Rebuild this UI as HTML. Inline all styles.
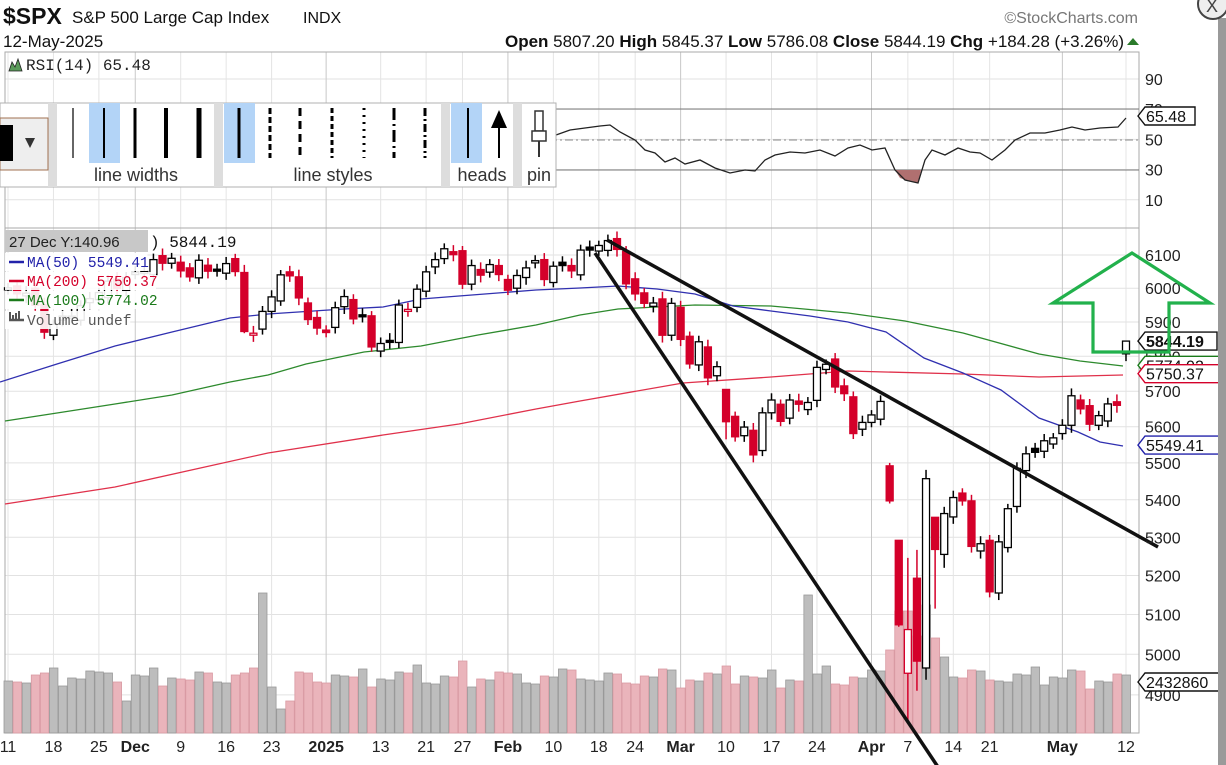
<!DOCTYPE html>
<html><head><meta charset="utf-8">
<style>
html,body{margin:0;padding:0;background:#fff;width:1226px;height:765px;overflow:hidden;font-family:"Liberation Sans",sans-serif;}
#wrap{position:relative;width:1226px;height:765px;}
svg{position:absolute;left:0;top:0;}
</style></head>
<body><div id="wrap"><svg id="s" width="1226" height="765" viewBox="0 0 1226 765" xmlns="http://www.w3.org/2000/svg"></svg></div>
<script>
const S=document.getElementById('s');
let h='';
function Y(p){return 255+2008*Math.log(6100/p);}
const hol=['2024-11-28','2024-12-25','2025-01-01','2025-01-09','2025-01-20','2025-02-17','2025-04-18'];
let days=[];let d=new Date(Date.UTC(2024,10,11));const end=new Date(Date.UTC(2025,4,12));
while(d<=end){const w=d.getUTCDay();const k=d.toISOString().slice(0,10);if(w>0&&w<6&&hol.indexOf(k)<0)days.push(k);d=new Date(d.getTime()+86400000);}
const n=days.length;const step=(1126-8)/(n-1);
function X(i){return 8+i*step;}
function idx(k){return days.indexOf(k);}
const C=[6001,5983,5985,5949,5870,5893,5917,5917,5948,5969,5987,6021,5999,6032,6047,6050,6086,6075,6090,6052,6034,6084,6051,6051,6074,6050,5872,5867,5931,5974,6040,6037,5971,5907,5882,5869,5942,5975,5909,5918,5827,5837,5843,5950,5937,5997,6049,6086,6119,6101,6012,6068,6039,6071,6041,5994,6038,6061,6083,6026,6066,6068,6052,6115,6115,6129,6144,6117,6013,5983,5955,5956,5861,5955,5849,5778,5842,5738,5770,5614,5572,5599,5522,5639,5675,5615,5675,5663,5668,5768,5777,5712,5693,5581,5612,5633,5671,5397,5074,5062,4983,5457,5268,5363,5406,5397,5276,5283,5158,5288,5376,5485,5525,5529,5561,5569,5604,5687,5650,5607,5631,5664,5660,5844];
const OV={'2025-04-03':[5492,5500,5390],'2025-04-04':[5292,5292,5069],'2025-04-07':[4953,5246,4835],'2025-04-08':[5193,5267,4910],'2025-04-09':[4966,5481,4937],'2025-04-10':[5353,5353,5115],'2025-04-11':[5255,5381,5220],'2025-05-12':[5807,5845,5786],'2024-12-18':[6047,6070,5867],'2025-03-10':[5705,5705,5565]};
const labs=[['2024-11-11','11'],['2024-11-18','18'],['2024-11-25','25'],['2024-12-02','Dec',1],['2024-12-09','9'],['2024-12-16','16'],['2024-12-23','23'],['2025-01-02','2025',1],['2025-01-13','13'],['2025-01-21','21'],['2025-01-27','27'],['2025-02-03','Feb',1],['2025-02-10','10'],['2025-02-18','18'],['2025-02-24','24'],['2025-03-03','Mar',1],['2025-03-10','10'],['2025-03-17','17'],['2025-03-24','24'],['2025-04-01','Apr',1],['2025-04-07','7'],['2025-04-14','14'],['2025-04-21','21'],['2025-05-01','May',1],['2025-05-12','12']];
[90,70,50,30,10].forEach(v=>{const y=79+(90-v)*1.51;h+=`<line x1="5" x2="1139" y1="${y}" y2="${y}" stroke="#e2e2e2"/>`;});
for(let p=4900;p<=6100;p+=100){const y=Y(p);h+=`<line x1="5" x2="1139" y1="${y}" y2="${y}" stroke="#e2e2e2"/>`;}
labs.forEach(l=>{const i=idx(l[0]);if(i<0)return;const x=X(i);h+=`<line x1="${x}" x2="${x}" y1="52" y2="733" stroke="${l[2]?'#c8c8c8':'#e4e4e4'}"/>`;});
h+=`<rect x="5" y="52" width="1134" height="681" fill="none" stroke="#aaa"/><line x1="5" x2="1139" y1="228" y2="228" stroke="#aaa"/>`;
h+=`<line x1="5" x2="1139" y1="109" y2="109" stroke="#777"/><line x1="5" x2="1139" y1="170" y2="170" stroke="#777"/><line x1="5" x2="1139" y1="140" y2="140" stroke="#888" stroke-dasharray="8,3,2,3"/>`;
h+=`<polygon points="895,170 900,178 906,180 912,181 918,183 921,170" fill="#b07070"/>`;
h+=`<polyline fill="none" stroke="#222" stroke-width="1.3" points="556,135 570,130 585,128 600,126 610,125 620,132 635,140 645,150 655,153 665,162 675,158 685,164 700,160 715,168 730,173 745,170 755,171 765,160 775,155 790,152 805,153 820,150 835,156 848,148 860,145 872,150 885,148 895,170 905,180 918,183 925,160 932,150 945,155 958,148 970,152 980,153 992,160 1005,150 1015,140 1030,133 1045,133 1060,130 1072,127 1085,130 1100,128 1118,127 1126,118"/>`;
let vs=[];for(let i=0;i<n;i++){vs.push(52+((i*37)%17)-((i*13)%9));}
const VO={'2024-11-15':60,'2024-11-29':32,'2024-12-20':140,'2024-12-18':60,'2024-12-24':24,'2024-12-26':32,'2025-01-27':72,'2025-03-21':138,'2025-04-03':83,'2025-04-04':122,'2025-04-07':122,'2025-04-08':97,'2025-04-09':128,'2025-04-10':95,'2025-04-11':76};
for(let i=0;i<n;i++){const v=VO[days[i]]||vs[i];const up=i==0||C[i]>=C[i-1];const x=X(i);h+=`<rect x="${x-4}" y="${733-v}" width="8.5" height="${v}" fill="${up?'#bdbdbd':'#eab4bb'}" stroke="${up?'#999':'#d99aa3'}" stroke-width="0.8"/>`;}
const blue="0,382 57,364 115,346 172,332 230,318 268,314 344,309 383,307 421,299 459,296 536,290 580,288 618,286 657,289 695,294 733,306 771,311 810,316 848,322 886,332 924,358 963,373 1001,390 1039,418 1078,432 1100,442 1123,446";
const green="5,421 57,413 115,404 172,395 230,382 268,375 306,364 364,352 421,346 478,335 536,325 580,315 618,309 695,305 771,306 848,313 905,321 963,333 1039,354 1080,361 1123,366";
const red="5,504 115,487 268,453 383,435 459,424 536,409 580,401 683,383 771,377 848,371 963,374 1039,377 1123,375";
h+=`<polyline points="${red}" fill="none" stroke="#e0314b" stroke-width="1.3"/><polyline points="${green}" fill="none" stroke="#2d8a2d" stroke-width="1.3"/><polyline points="${blue}" fill="none" stroke="#3030b0" stroke-width="1.3"/>`;
for(let i=0;i<n;i++){const k=days[i];let c=C[i],o,hi,lo;
 if(OV[k]){o=OV[k][0];hi=OV[k][1];lo=OV[k][2];}
 else{const pc=i?C[i-1]:6010;o=pc+(((i*29)%11)-5)*3;const r=c*0.004+((i*7)%5)*3;hi=Math.max(o,c)+r*0.6;lo=Math.min(o,c)-r*0.6;}
 const up=i==0||c>=C[i-1];const col=up?'#000':'#d4002a';const x=X(i);
 const yt=Y(Math.max(o,c)),yb=Y(Math.min(o,c));const bh=Math.max(2,yb-yt);
 h+=`<line x1="${x}" x2="${x}" y1="${Y(hi)}" y2="${Y(lo)}" stroke="${col}" stroke-width="1.5"/>`;
 h+=`<rect x="${x-3.5}" y="${yt}" width="7" height="${bh}" fill="${c<o?col:'#fff'}" stroke="${col}" stroke-width="1.3"/>`;}
h+=`<line x1="607" y1="240" x2="1158" y2="547" stroke="#111" stroke-width="3.5"/><line x1="595" y1="253" x2="940" y2="770" stroke="#111" stroke-width="3.5"/>`;
h+=`<rect x="5" y="230" width="143" height="22" fill="#c8c8c8"/><text x="9" y="247" font-size="15" fill="#222">27 Dec Y:140.96</text>`;
h+=`<text x="150" y="247" font-family="Liberation Mono,monospace" font-size="16" fill="#111">) 5844.19</text>`;
const lg=[['MA(50) 5549.41','#2222aa',267],['MA(200) 5750.37','#d4002a',286],['MA(100) 5774.02','#1a7a1a',305],['Volume undef','#555',325]];
lg.forEach(l=>{h+=`<rect x="5" y="${l[2]-14}" width="${l[0].length*8.6+22}" height="18" fill="#fff" opacity="0.9"/><line x1="9" x2="24" y1="${l[2]-5}" y2="${l[2]-5}" stroke="${l[1]}" stroke-width="2.5"/><text x="27" y="${l[2]}" font-family="Liberation Mono,monospace" font-size="14.5" fill="${l[1]}">${l[0]}</text>`;});
h+=`<rect x="9" y="312" width="2" height="9" fill="#555"/><rect x="12" y="315" width="2" height="6" fill="#555"/><rect x="15" y="313" width="2" height="8" fill="#555"/><rect x="18" y="311" width="2" height="10" fill="#555"/>`;
h+=`<path d="M9 71 L12 62 L15 67 L18 59 L22 71 Z" fill="#5a9a5a" stroke="#222" stroke-width="0.8"/><text x="26" y="70" font-family="Liberation Mono,monospace" font-size="16" fill="#222">RSI(14) 65.48</text>`;
[[90,'90'],[70,'70'],[50,'50'],[30,'30'],[10,'10']].forEach(a=>{h+=`<text x="1145" y="${79+(90-a[0])*1.51+6}" font-size="16" fill="#222">${a[1]}</text>`;});
for(let p=4900;p<=6100;p+=100){h+=`<text x="1145" y="${Y(p)+6}" font-size="16" fill="#222">${p}</text>`;}
function tag(y,t,col,bold,w){h+=`<path d="M1138 ${y} L1145 ${y-9} L${1145+w} ${y-9} L${1145+w} ${y+9} L1145 ${y+9} Z" fill="#fff" stroke="${col}" stroke-width="1.4"/><text x="1146" y="${y+6}" font-size="16" ${bold?'font-weight="bold"':''} fill="#111">${t}</text>`;}
tag(116,'65.48','#111',0,50);
tag(Y(5774),'5774.02','#1a7a1a',0,74);
tag(Y(5750),'5750.37','#d4002a',0,74);
tag(Y(5844),'5844.19','#111',1,72);
tag(Y(5549),'5549.41','#2222aa',0,74);
tag(682,'2432860','#111',0,82);
labs.forEach(l=>{const i=idx(l[0]);if(i<0)return;h+=`<text x="${X(i)}" y="752" font-size="16" text-anchor="middle" ${l[2]?'font-weight="bold"':''} fill="#222">${l[1]}</text>`;});
h+=`<path d="M1132 253 L1053 303 L1093 303 L1093 352 L1169 352 L1169 303 L1210 303 Z" fill="none" stroke="#22b14c" stroke-width="3.2"/>`;
h+=`<text x="3" y="24" font-size="23" font-weight="bold" fill="#111">$SPX</text><text x="72" y="23" font-size="17" fill="#111">S&amp;P 500 Large Cap Index</text><text x="303" y="23" font-size="16" fill="#111">INDX</text>`;
h+=`<text x="3" y="47" font-size="17" fill="#111">12-May-2025</text>`;
h+=`<text x="1124" y="47" font-size="17" text-anchor="end" fill="#111"><tspan font-weight="bold">Open</tspan> 5807.20  <tspan font-weight="bold">High</tspan> 5845.37  <tspan font-weight="bold">Low</tspan> 5786.08  <tspan font-weight="bold">Close</tspan> 5844.19  <tspan font-weight="bold">Chg</tspan> +184.28 (+3.26%)</text><path d="M1127 45 L1133 38 L1139 45 Z" fill="#2a7a2a"/>`;
h+=`<text x="1138" y="23" font-size="16" text-anchor="end" fill="#777">©StockCharts.com</text>`;
h+=`<rect x="1218" y="18" width="8" height="747" fill="#9a9a9a"/><circle cx="1213" cy="4" r="15" fill="#eee" stroke="#444" stroke-width="2"/><text x="1206" y="12" font-size="18" fill="#444">X</text>`;
h+=`<rect x="0" y="103" width="556" height="84" fill="#fff" stroke="#b0b0b0"/>`;
[[48,9],[214,9],[441,9],[513,9]].forEach(b=>{h+=`<rect x="${b[0]}" y="103" width="${b[1]}" height="84" fill="#ddd"/>`;});
h+=`<rect x="0" y="118" width="48" height="52" fill="#eee" stroke="#a07050"/><rect x="0" y="125" width="13" height="36" fill="#000"/><path d="M25 138 L35 138 L30 148 Z" fill="#333"/>`;
h+=`<rect x="89" y="103" width="31" height="60" fill="#b3d4f7"/><rect x="224" y="103" width="31" height="60" fill="#b3d4f7"/><rect x="451" y="103" width="31" height="60" fill="#b3d4f7"/>`;
[[73,1.2],[104,2],[135,3],[166,4],[199,5]].forEach(a=>{h+=`<line x1="${a[0]}" x2="${a[0]}" y1="108" y2="158" stroke="#000" stroke-width="${a[1]}"/>`;});
const da=['','6,3','8,5','5,3','2,5','12,4,2,4','8,3,2,3'];
[239,270,300,332,364,394,425].forEach((x,i)=>{h+=`<line x1="${x}" x2="${x}" y1="108" y2="158" stroke="#000" stroke-width="3" ${da[i]?`stroke-dasharray="${da[i]}"`:''}/>`;});
h+=`<line x1="468" x2="468" y1="108" y2="158" stroke="#000" stroke-width="2"/><line x1="499" x2="499" y1="120" y2="158" stroke="#000" stroke-width="2"/><path d="M491 128 L499 110 L507 128 Z" fill="#000"/>`;
h+=`<rect x="535" y="111" width="8" height="20" fill="#fff" stroke="#333" stroke-width="1.5"/><rect x="532" y="131" width="14" height="10" fill="#fff" stroke="#333" stroke-width="1.5"/><line x1="539" x2="539" y1="141" y2="157" stroke="#333" stroke-width="2"/>`;
h+=`<text x="136" y="181" font-size="18" text-anchor="middle" fill="#333">line widths</text><text x="333" y="181" font-size="18" text-anchor="middle" fill="#333">line styles</text><text x="482" y="181" font-size="18" text-anchor="middle" fill="#333">heads</text><text x="539" y="181" font-size="18" text-anchor="middle" fill="#333">pin</text>`;
S.innerHTML=h;
</script>
</body></html>
